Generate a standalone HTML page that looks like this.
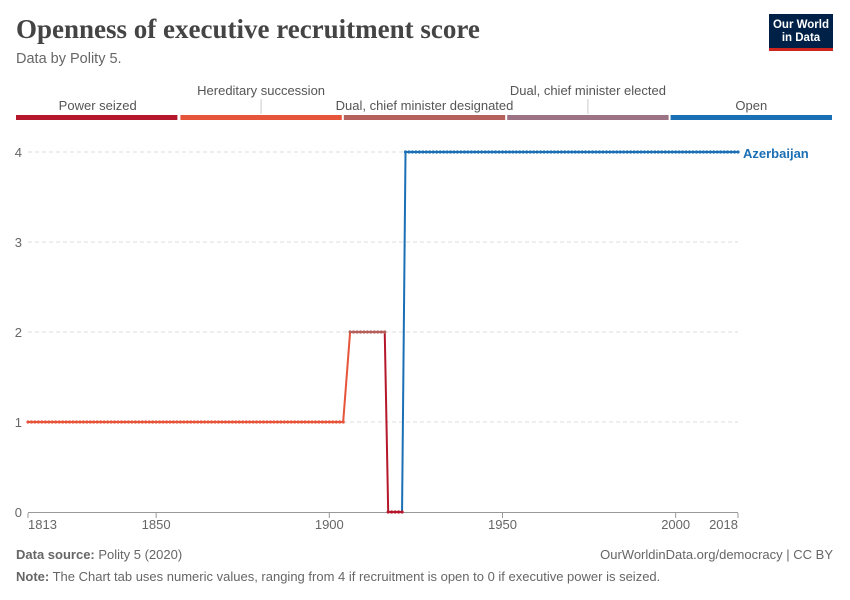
<!DOCTYPE html>
<html><head><meta charset="utf-8"><style>
body{margin:0;background:#fff;font-family:"Liberation Sans",sans-serif;}
#wrap{position:relative;width:850px;height:600px;overflow:hidden;}
.t{position:absolute;white-space:nowrap;}
</style></head><body>
<div id="wrap">
<div class="t" style="left:16px;top:14px;font-family:'Liberation Serif',serif;font-size:27px;font-weight:bold;color:#444;">Openness of executive recruitment score</div>
<div class="t" style="left:16px;top:51px;font-size:14.5px;color:#666;">Data by Polity 5.</div>
<div style="position:absolute;left:769px;top:14px;width:64px;height:37px;background:#002147;border-bottom:3px solid #ce261e;color:#fff;font-size:11.5px;font-weight:bold;text-align:center;line-height:13px;padding-top:5px;box-sizing:border-box;">Our World<br>in Data</div>
<svg id="svg" width="850" height="600" style="position:absolute;left:0;top:0"></svg>
<div class="t" style="left:16px;top:547px;font-size:13px;color:#666;"><b>Data source:</b> Polity 5 (2020)</div>
<div class="t" style="right:17px;top:547px;font-size:13px;color:#666;">OurWorldinData.org/democracy | CC BY</div>
<div class="t" style="left:16px;top:569px;font-size:13px;color:#666;"><b>Note:</b> The Chart tab uses numeric values, ranging from 4 if recruitment is open to 0 if executive power is seized.</div>
</div>
<script>
const categories=["Power seized","Hereditary succession","Dual, chief minister designated","Dual, chief minister elected","Open"];
const catColors=["#b5172b","#e6543a","#b5605a","#9b7384","#1a6fb5"];
const yTicks=[0,1,2,3,4];
const xTicks=[1813,1850,1900,1950,2000,2018];
const years=[1813,1904,1906,1916,1917,1921,1922,2018];
const values=[1,1,2,2,0,0,4,4];
const svg=document.getElementById('svg');
const NS='http://www.w3.org/2000/svg';
const x=y=>28+(y-1813)*(738-28)/(2018-1813);
const yS=v=>512-v*90;
function mk(t,a){const e=document.createElementNS(NS,t);for(const k in a)e.setAttribute(k,a[k]);svg.appendChild(e);return e;}
const lw=163.4;
categories.forEach((c,i)=>{
 const r=mk('rect',{x:16+i*lw+(i?1:0),y:115,width:lw-2,height:5,fill:catColors[i]});
 
 
 const cx=16+i*lw+lw/2, hi=i%2==1;
 if(hi){const l=mk('line',{x1:cx,x2:cx,y1:99,y2:114,stroke:'#ccc'});}
 const t=mk('text',{x:cx,y:hi?95:110,'text-anchor':'middle','font-size':13,fill:'#555'});
 t.textContent=c;
 
 
});
yTicks.forEach(v=>{
 if(v>0){const g=mk('line',{x1:28,x2:738,y1:yS(v),y2:yS(v),stroke:'#ddd','stroke-dasharray':'4,3'});}
 const t=mk('text',{x:22,y:yS(v)+5,'text-anchor':'end','font-size':13,fill:'#666'});t.textContent=v;
 
 
});
const ax=mk('line',{x1:28,x2:738,y1:512.5,y2:512.5,stroke:'#999'});


xTicks.forEach((v,i)=>{
 mk('line',{x1:x(v),x2:x(v),y1:513,y2:518,stroke:'#999'});
 const anc=i==0?'start':(i==xTicks.length-1?'end':'middle');
 const t=mk('text',{x:x(v),y:529,'text-anchor':anc,'font-size':13,fill:'#666'});t.textContent=v;
 
 
});
const colOf=v=>catColors[v];
for(let i=0;i<years.length-1;i++){
 const same=values[i]==values[i+1];
 const col=same?colOf(values[i]):(values[i]==1?colOf(1):colOf(values[i+1]));
 const l=mk('line',{x1:x(years[i]),y1:yS(values[i]),x2:x(years[i+1]),y2:yS(values[i+1]),stroke:col,'stroke-width':2});
 
 
}
for(let i=0;i<years.length-1;i++){
 for(let yr=years[i];yr<(i==years.length-2?years[i+1]+1:years[i+1]);yr++){
  if(values[i]!=values[i+1]&&yr!=years[i])continue;
  const c=mk('circle',{cx:x(yr),cy:yS(values[i]),r:1.6,fill:colOf(values[i])});
  
  
 }
}
const lab=mk('text',{x:743,y:yS(values[values.length-1])+6,'font-size':13,'font-weight':'bold',fill:catColors[4]});
lab.textContent='Azerbaijan';


</script>
</body></html>
